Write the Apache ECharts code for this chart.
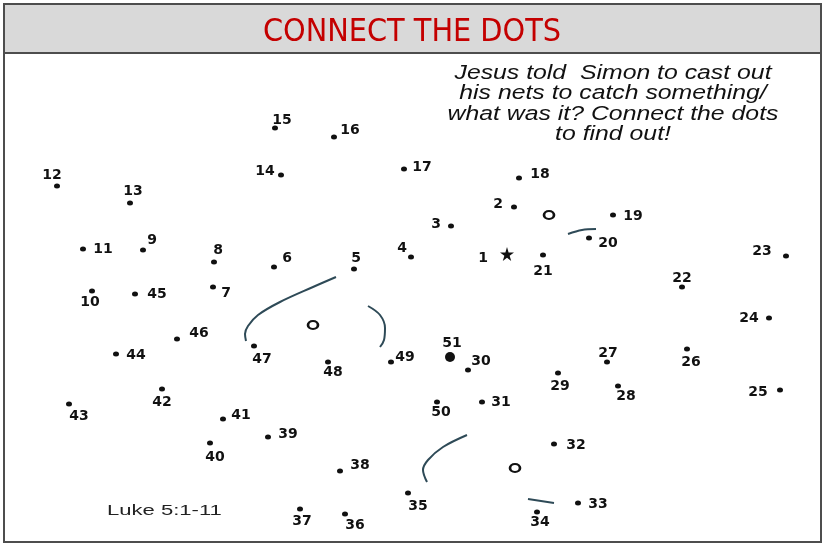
<!DOCTYPE html>
<html>
<head>
<meta charset="utf-8">
<script src="https://cdn.jsdelivr.net/npm/echarts@6/dist/echarts.min.js"></script>
<style>
html,body{margin:0;padding:0;background:#fff;}
#chart{width:824px;height:545px;}
</style>
</head>
<body>
<div id="chart"></div>
<script>
// ---- data (page coordinates, y downward) ----
const dotLabels = ['1','2','3','4','5','6','7','8','9','10','11','12','13','14','15','16','17','18','19','20',
  '21','22','23','24','25','26','27','28','29','30','31','32','33','34','35','36','37','38','39','40',
  '41','42','43','44','45','46','47','48','49','50','51'];
const dotX = [507,514,451,411,354,274,213,214,143,92,83,57,130,281,275,334,404,519,613,589,
  543,682,786,769,780,687,607,618,558,468,482,554,578,537,408,345,300,340,268,210,
  223,162,69,116,135,177,254,328,391,437,450];
const dotY = [254,207,226,257,269,267,287,262,250,291,249,186,203,175,128,137,169,178,215,238,
  255,287,256,318,390,349,362,386,373,370,402,444,503,512,493,514,509,471,437,443,
  419,389,404,354,294,339,346,362,362,402,357];
// pre-drawn strokes of the picture
const arcTopLeftX = [336,313,280,258,248,245,246];
const arcTopLeftY = [277,287,302,315,326,334,341];
const arcRightX = [368,380,385,384,380];
const arcRightY = [306,315,328,340,347];
const arcBottomX = [467,443,428,423,427];
const arcBottomY = [435,447,460,470,482];
const strokeUpperX = [568,582,596];
const strokeUpperY = [234,230,229];
const strokeLowerX = [528,554];
const strokeLowerY = [499,503];
const eyeX = [313,549,515];
const eyeY = [325,215,468];
const titleText = 'CONNECT THE DOTS';
const noteLines = ['Jesus told  Simon to cast out','his nets to catch something/','what was it? Connect the dots','to find out!'];
const refText = 'Luke 5:1-11';

// ---- styling (label placement relative to each dot) ----
const labelOffsets = [[-24,4],[-16,-3],[-15,-2],[-9,-9],[2,-11],[13,-9],[13,6],[4,-12],[9,-10],[-2,11],
  [20,0],[-5,-11],[3,-12],[-16,-4],[7,-8],[16,-7],[18,-2],[21,-4],[20,1],[19,5],
  [0,16],[0,-9],[-24,-5],[-20,0],[-22,2],[4,13],[1,-9],[8,10],[2,13],[13,-9],
  [19,0],[22,1],[20,1],[3,10],[10,13],[10,11],[2,12],[20,-6],[20,-3],[5,14],
  [18,-4],[0,13],[10,12],[20,1],[22,0],[22,-6],[8,13],[5,10],[14,-5],[4,10],[2,-14]];
const STAR = 'path://M50,0 L61,35 L98,35 L68,57 L79,91 L50,70 L21,91 L32,57 L2,35 L39,35 Z';
const strokeColor = '#2e4a57';

const zip = (xs, ys) => xs.map((x, i) => [x, ys[i]]);

const dotData = dotX.map((x, i) => {
  const item = {
    value: [x, dotY[i]],
    label: { offset: labelOffsets[i] }
  };
  if (i === 0) { item.symbol = STAR; item.symbolSize = 14; }
  if (i === 50) { item.symbolSize = 10; }
  return item;
});

function strokeSeries(xs, ys) {
  return {
    type: 'line', data: zip(xs, ys), smooth: 0.35, symbol: 'none', silent: true,
    lineStyle: { color: strokeColor, width: 2 }, z: 1
  };
}

const chart = echarts.init(document.getElementById('chart'), null, { renderer: 'canvas' });
chart.setOption({
  animation: false,
  backgroundColor: '#ffffff',
  title: {
    text: titleText, left: 'center', top: 12,
    textStyle: { color: '#c40000', fontSize: 32, fontWeight: 'normal', fontFamily: '"Liberation Sans Narrow", "DejaVu Sans Condensed", sans-serif' }
  },
  grid: { left: 0, top: 0, width: 824, height: 545, show: false },
  xAxis: { type: 'value', min: 0, max: 824, show: false },
  yAxis: { type: 'value', min: 0, max: 545, inverse: true, show: false },
  graphic: [
    { type: 'rect', shape: { x: 4, y: 4, width: 817, height: 48 }, style: { fill: '#d9d9d9' }, z: -10 },
    { type: 'rect', shape: { x: 4, y: 4, width: 817, height: 538 }, style: { fill: 'none', stroke: '#4d4d4d', lineWidth: 2 }, z: -5 },
    { type: 'line', shape: { x1: 4, y1: 53, x2: 821, y2: 53 }, style: { stroke: '#4d4d4d', lineWidth: 2 }, z: -5 },
    { type: 'text', x: 613, y: 63, scaleX: 1.24, style: { text: noteLines.join('\n'), textAlign: 'center', fill: '#111',
        font: 'italic 20px "Liberation Sans", Arial, sans-serif', lineHeight: 20.5 } },
    { type: 'text', x: 107, y: 511, scaleX: 1.47, style: { text: refText, fill: '#222', textVerticalAlign: 'middle',
        font: '15px "Liberation Sans", Arial, sans-serif' } }
  ],
  series: [
    strokeSeries(arcTopLeftX, arcTopLeftY),
    strokeSeries(arcRightX, arcRightY),
    strokeSeries(arcBottomX, arcBottomY),
    strokeSeries(strokeUpperX, strokeUpperY),
    strokeSeries(strokeLowerX, strokeLowerY),
    {
      type: 'scatter', data: zip(eyeX, eyeY), symbol: 'circle', symbolSize: [10, 8], silent: true,
      itemStyle: { color: 'rgba(0,0,0,0)', borderColor: '#111', borderWidth: 2.4, opacity: 1 }
    },
    {
      type: 'scatter', data: dotData, symbol: 'circle', symbolSize: [6, 5], silent: true,
      itemStyle: { color: '#111', opacity: 1 },
      label: {
        show: true, position: 'inside',
        formatter: p => dotLabels[p.dataIndex],
        color: '#111', fontSize: 14, fontWeight: 'bold',
        fontFamily: '"DejaVu Sans", sans-serif'
      },
      z: 3
    }
  ]
});
</script>
</body>
</html>
